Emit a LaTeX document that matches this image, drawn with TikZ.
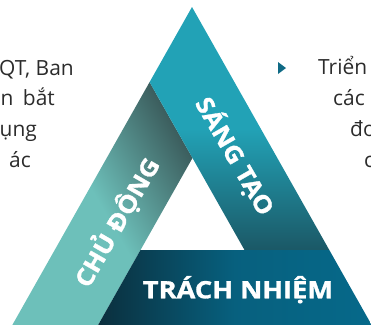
\documentclass[tikz,border=0pt]{standalone}
\usepackage{fontspec}
\setmainfont{Open Sans}
\newfontfamily\bandafont[FakeBold=1.2]{Open Sans}
\usepackage{pgf,tikz}
\usepackage{graphicx}

\definecolor{cdclaro}{HTML}{6DC0BA}
\definecolor{cdoscuro}{HTML}{3C5E5E}
\definecolor{stclaro}{HTML}{22A2B6}
\definecolor{stoscuro}{HTML}{1B5866}
\definecolor{tnoscuro}{HTML}{0B2E3C}
\definecolor{tnclaro}{HTML}{06698A}
\definecolor{textogris}{HTML}{2B2B2B}
\definecolor{vineta}{HTML}{0F6A85}

\tikzset{
  banda/.style={font=\bandafont\bfseries\fontsize{24}{24}\selectfont, text=white, inner sep=0pt},
  parrafo/.style={font=\fontsize{21}{21}\selectfont, text=textogris, inner sep=0pt},
}

\begin{document}
\begin{tikzpicture}[x=1bp,y=-1bp]
%marco de la figura
\clip (0,0) rectangle (371,325);

%banda izquierda
\shade[top color=cdoscuro, bottom color=cdclaro, middle color=cdclaro, shading angle=-60]
  (9.5,330) -- (149.6,82.1) -- (192.5,158) -- (95.3,330) -- cycle;
%banda derecha
\shade[top color=stclaro, bottom color=stoscuro, middle color=stclaro]
  (192,7) -- (149.6,82.1) -- (244.5,250) -- (329.3,250) -- cycle;
%banda de abajo
\shade[left color=tnoscuro, right color=tnclaro, middle color=tnclaro!85!tnoscuro]
  (140.5,250) -- (329.3,250) -- (374.5,330) -- (95.3,330) -- cycle;

%textos de las bandas
\node[banda, rotate=60] (chudong) at (116.5,222) {\scalebox{1.1}[1]{CHỦ ĐỘNG}};
\node[banda, rotate=-60] (sangtao) at (235,156) {\scalebox{1.1}[1]{SÁNG TẠO}};
\node[banda, anchor=base] (trachnhiem) at (238,298.3) {\scalebox{1.14}[1]{TRÁCH NHIỆM}};

%parrafo de la izquierda
\node[parrafo, anchor=base east] (izq1) at (74,75) {QT, Ban};
\node[parrafo, anchor=base east] (izq2) at (55,105) {n\hspace{4pt} bắt};
\node[parrafo, anchor=base east] (izq3) at (37,136) {ụng};
\node[parrafo, anchor=base east] (izq4) at (31,167) {ác};

%parrafo de la derecha
\fill[vineta] (278,62) -- (286,68) -- (278,74) -- cycle;
\node[parrafo, anchor=base west] (der1) at (318,74) {Triển};
\node[parrafo, anchor=base west] (der2) at (333,105) {các};
\node[parrafo, anchor=base west] (der3) at (350,136) {đo};
\node[parrafo, anchor=base west] (der4) at (364,167) {c};
\end{tikzpicture}
\end{document}
